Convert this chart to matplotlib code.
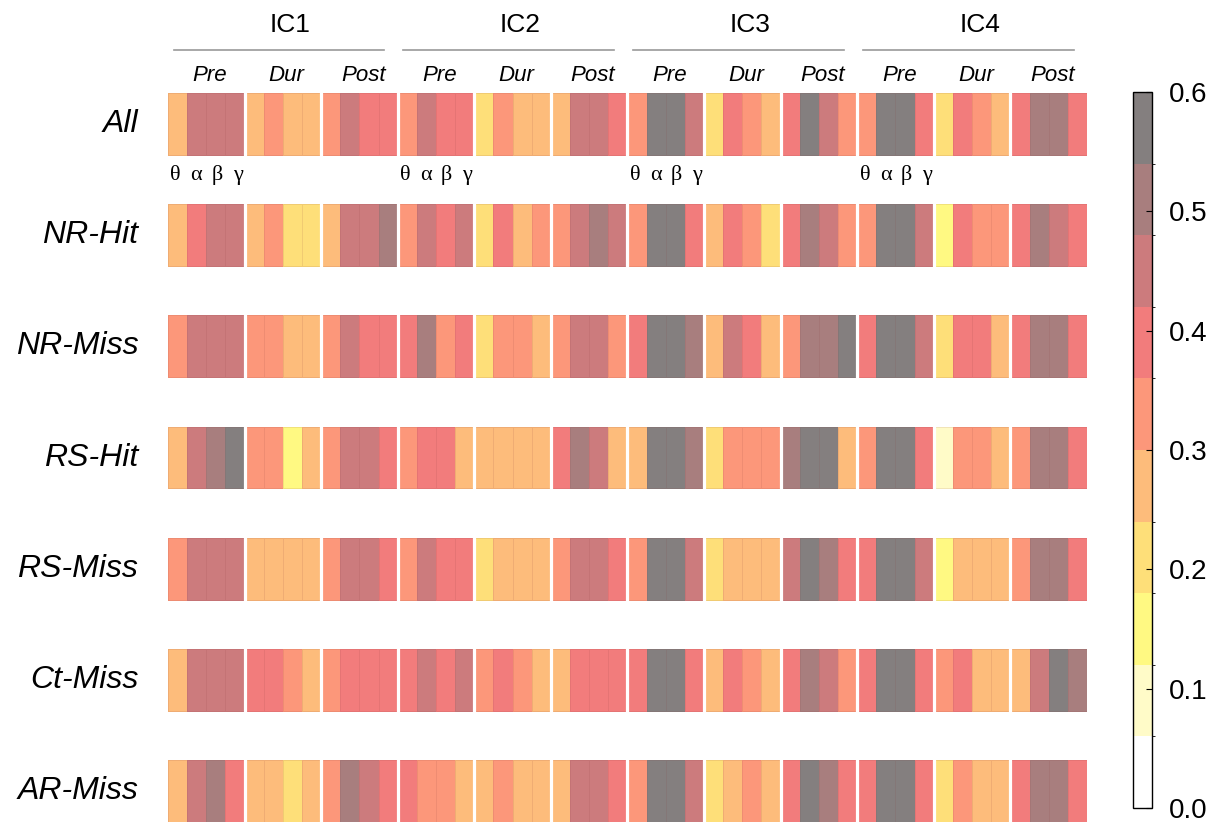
import numpy as np
import matplotlib
matplotlib.use('Agg')
import matplotlib.pyplot as plt
from matplotlib.colors import ListedColormap, BoundaryNorm
from matplotlib.cm import ScalarMappable

plt.rcParams['font.family'] = ['Liberation Sans', 'DejaVu Sans']

# labels
row_labels = ['All', 'NR-Hit', 'NR-Miss', 'RS-Hit', 'RS-Miss', 'Ct-Miss', 'AR-Miss']
ic_labels = ['IC1', 'IC2', 'IC3', 'IC4']
period_labels = ['Pre', 'Dur', 'Post']
band_labels = ['\u03b8', '\u03b1', '\u03b2', '\u03b3']

# values per row: IC1..IC4, each Pre/Dur/Post, each theta/alpha/beta/gamma
vals_all = [.27, .45, .45, .45, .27, .33, .27, .27, .33, .45, .39, .39,
            .33, .45, .39, .39, .21, .33, .27, .27, .27, .45, .45, .39,
            .33, .57, .57, .45, .21, .39, .33, .27, .39, .57, .45, .33,
            .33, .57, .57, .39, .21, .39, .33, .27, .39, .51, .51, .39]
vals_nr_hit = [.27, .39, .45, .45, .27, .33, .21, .21, .27, .45, .45, .51,
               .33, .45, .39, .45, .21, .39, .27, .33, .33, .45, .51, .45,
               .33, .57, .57, .39, .27, .39, .33, .21, .39, .51, .45, .33,
               .33, .57, .57, .45, .15, .39, .33, .33, .39, .51, .45, .39]
vals_nr_miss = [.33, .45, .45, .45, .33, .33, .27, .27, .33, .45, .39, .39,
                .39, .51, .33, .39, .21, .33, .33, .27, .33, .45, .45, .33,
                .39, .57, .57, .51, .27, .45, .39, .27, .33, .51, .51, .57,
                .39, .57, .57, .45, .21, .39, .39, .27, .39, .51, .51, .39]
vals_rs_hit = [.27, .45, .51, .57, .33, .33, .15, .27, .33, .45, .45, .39,
               .33, .39, .39, .27, .27, .27, .27, .27, .39, .51, .45, .27,
               .27, .57, .57, .51, .21, .33, .33, .33, .51, .57, .57, .27,
               .33, .57, .57, .39, .09, .33, .33, .27, .33, .51, .51, .39]
vals_rs_miss = [.33, .45, .45, .45, .27, .27, .27, .27, .33, .45, .45, .39,
                .33, .45, .39, .39, .21, .27, .27, .27, .33, .45, .45, .39,
                .33, .57, .57, .45, .21, .27, .27, .27, .45, .57, .51, .39,
                .39, .57, .57, .45, .15, .27, .27, .27, .33, .51, .51, .39]
vals_ct_miss = [.27, .45, .45, .45, .39, .39, .33, .27, .33, .39, .39, .39,
                .39, .45, .39, .45, .33, .39, .33, .27, .27, .39, .39, .39,
                .39, .57, .57, .39, .27, .39, .33, .27, .39, .51, .45, .33,
                .39, .57, .57, .39, .33, .39, .27, .27, .27, .45, .57, .51]
vals_ar_miss = [.27, .45, .51, .39, .27, .27, .21, .27, .33, .51, .45, .39,
                .39, .33, .33, .27, .27, .33, .27, .27, .27, .45, .45, .39,
                .33, .57, .57, .45, .21, .27, .33, .27, .39, .57, .51, .39,
                .39, .57, .57, .39, .21, .33, .27, .27, .39, .51, .51, .39]

rows = [vals_all, vals_nr_hit, vals_nr_miss, vals_rs_hit, vals_rs_miss, vals_ct_miss, vals_ar_miss]

# discrete colour scale 0..0.6
bounds = np.linspace(0, 0.6, 11)
colors = ['#FFFFFF', '#FFFBC8', '#FFF982', '#FEDF79', '#FDBC7B',
          '#FC977A', '#F27C7C', '#CC7B7D', '#A87E7E', '#847F7F']
cmap = ListedColormap(colors)
norm = BoundaryNorm(bounds, cmap.N)

fig = plt.figure(figsize=(12.25, 8.27), dpi=100)
ax = fig.add_axes([0.1371, 0.006, 0.7502, 0.8815])

pitch = 1.8
n_cols = 48
for i, vals in enumerate(rows):
    y0 = i * pitch
    ax.pcolormesh(np.arange(n_cols + 1), [y0, y0 + 1], np.array(vals)[None, :],
                  cmap=cmap, norm=norm, edgecolors=(0.55, 0.25, 0.25, 0.12), linewidth=0.6)
    for b in range(1, 12):
        ax.plot([4 * b, 4 * b], [y0 - 0.02, y0 + 1.02], color='white', lw=2.3,
                solid_capstyle='butt')
    ax.text(-1.55, y0 + 0.5, row_labels[i], ha='right', va='center',
            fontsize=23, style='italic')

ax.set_xlim(0, n_cols)
ax.set_ylim(6 * pitch + 1, 0)
ax.axis('off')

# header: IC labels, lines, period labels, band letters
for k, ic in enumerate(ic_labels):
    x0 = 12 * k
    ax.text(x0 + 6.4, -1.1, ic, ha='center', va='center', fontsize=19, clip_on=False)
    ax.plot([x0 + 0.3, x0 + 11.3], [-0.7, -0.7], color='#999999', lw=1.2, clip_on=False)
    for p, per in enumerate(period_labels):
        ax.text(x0 + 4 * p + 2.2, -0.29, per, ha='center', va='center',
                fontsize=16, style='italic', clip_on=False)
    for b, band in enumerate(band_labels):
        ax.text(x0 + b * 1.08 + 0.4, 1.33, band, ha='center', va='center', fontsize=16,
                family=['Liberation Serif', 'DejaVu Serif'], clip_on=False)

# colour bar
cax = fig.add_axes([0.9249, 0.023, 0.0155, 0.8658])
cb = fig.colorbar(ScalarMappable(norm=norm, cmap=cmap), cax=cax,
                  ticks=[0, 0.1, 0.2, 0.3, 0.4, 0.5, 0.6], spacing='proportional')
cb.ax.tick_params(direction='in', length=4, width=0.8, labelsize=20, pad=12)
cb.ax.set_yticklabels(['0.0', '0.1', '0.2', '0.3', '0.4', '0.5', '0.6'])
cb.outline.set_linewidth(1.0)

fig.savefig('out.png', dpi=100)
